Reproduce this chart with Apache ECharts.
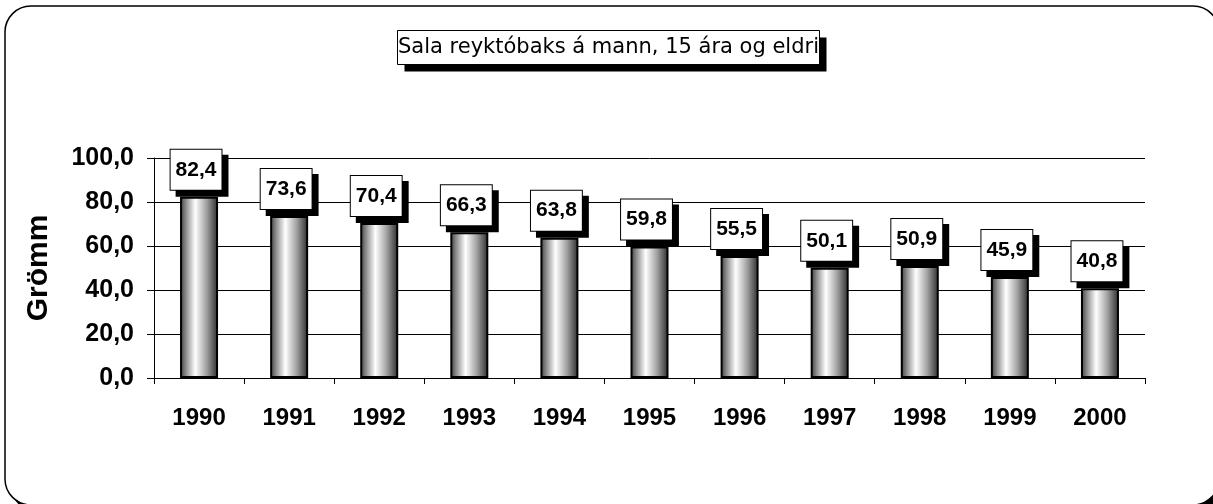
<!DOCTYPE html>
<html lang="is">
<head>
    <meta charset="UTF-8">
    <title>Sala reyktóbaks</title>
    <style>
        body{ margin:0; background:#fff; }
        #main{ width:1213px; height:504px; }
    </style>
    <script src="https://cdn.jsdelivr.net/npm/echarts@6/dist/echarts.min.js"></script>
</head>
<body>
<div id="main"></div>
<script type="text/javascript">
    var years = ['1990','1991','1992','1993','1994','1995','1996','1997','1998','1999','2000'];
    var grams = [82.4, 73.6, 70.4, 66.3, 63.8, 59.8, 55.5, 50.1, 50.9, 45.9, 40.8];
    var yTicks = [0, 20, 40, 60, 80, 100];

    var ARIAL = '"Liberation Sans", Arial, sans-serif';

    function commaNum(v){
        return v.toFixed(1).replace('.', ',');
    }

    var myChart = echarts.init(document.getElementById('main'));

    // sívalningsáferð á súlunum
    var barFill = new echarts.graphic.LinearGradient(0, 0, 1, 0, [
        {offset: 0, color: '#3a3a3a'},
        {offset: 0.15, color: '#8a8a8a'},
        {offset: 0.4, color: '#ffffff'},
        {offset: 0.7, color: '#a0a0a0'},
        {offset: 1, color: '#2a2a2a'}
    ]);

    var option = {
        animation: false,
        graphic: [{
            type: 'rect',
            shape: {x: 11, y: 12, width: 1214, height: 500, r: 26},
            style: {fill: '#000'},
            z: -11
        }, {
            type: 'rect',
            shape: {x: 5, y: 6, width: 1214, height: 499, r: 26},
            style: {fill: '#fff', stroke: '#000', lineWidth: 1.5},
            z: -10
        }, {
            type: 'group',
            left: 397, top: 30,
            children: [{
                type: 'rect',
                shape: {x: 7, y: 7, width: 422, height: 34},
                style: {fill: '#000'}
            }, {
                type: 'rect',
                shape: {x: 0, y: 0, width: 422, height: 34},
                style: {fill: '#fff', stroke: '#000', lineWidth: 1}
            }, {
                type: 'text',
                x: 211, y: 17,
                style: {text: 'Sala reyktóbaks á mann, 15 ára og eldri', fill: '#000',
                    font: '21px "DejaVu Sans", sans-serif', align: 'center', verticalAlign: 'middle'}
            }]
        }],
        grid: {left: 154, right: 68, top: 158, bottom: 126},
        xAxis: {
            type: 'category',
            data: years,
            axisLine: {lineStyle: {color: '#000', width: 1}},
            axisTick: {show: true, length: 6, inside: false, lineStyle: {color: '#000'}},
            axisLabel: {color: '#000', fontSize: 24, fontWeight: 'bold', fontFamily: ARIAL, margin: 28}
        },
        yAxis: {
            type: 'value',
            min: 0, max: 100, interval: 20,
            name: 'Grömm',
            nameLocation: 'middle',
            nameRotate: 90,
            nameGap: 100,
            nameTextStyle: {color: '#000', fontSize: 30, fontWeight: 'bold', fontFamily: ARIAL},
            axisLine: {show: true, lineStyle: {color: '#000', width: 1}},
            axisTick: {show: true, length: 7, lineStyle: {color: '#000'}},
            splitLine: {show: true, lineStyle: {color: '#000', width: 1}},
            axisLabel: {
                color: '#000', fontSize: 25, fontWeight: 'bold', fontFamily: ARIAL, margin: 20,
                formatter: function (v) { return yTicks.indexOf(v) >= 0 ? commaNum(v) : ''; }
            }
        },
        series: [{
            name: 'Grömm',
            type: 'bar',
            data: grams,
            barWidth: 38,
            itemStyle: {color: barFill, borderColor: '#000', borderWidth: 2},
            label: {
                show: true,
                position: 'top',
                distance: 7,
                offset: [-3, 0],
                formatter: function (p) { return commaNum(p.value); },
                color: '#000',
                fontSize: 21,
                lineHeight: 22,
                fontWeight: 'bold',
                fontFamily: ARIAL,
                backgroundColor: '#fff',
                borderColor: '#000',
                borderWidth: 1,
                padding: [9, 5, 9, 5],
                shadowColor: '#000',
                shadowOffsetX: 6,
                shadowOffsetY: 6,
                shadowBlur: 0
            }
        }]
    };

    myChart.setOption(option);
</script>
</body>
</html>
